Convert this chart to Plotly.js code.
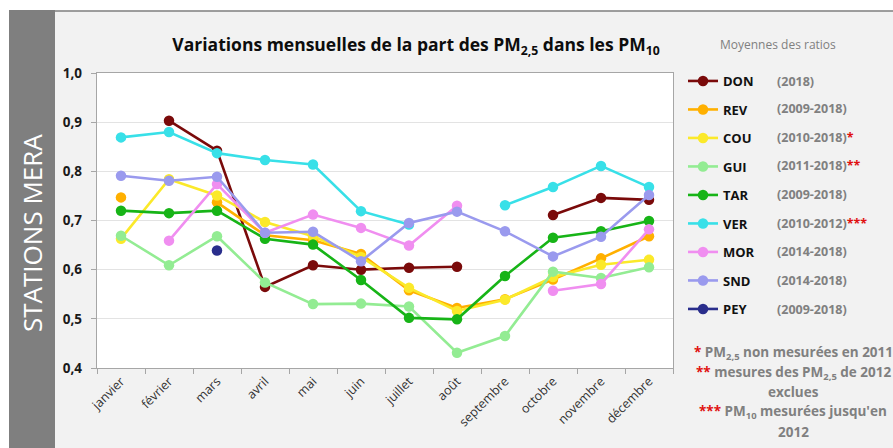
<!DOCTYPE html>
<html>
<head>
<meta charset="utf-8">
<script src="https://cdn.plot.ly/plotly-3.0.1.min.js"></script>
<style>
  html, body { margin: 0; padding: 0; background: #ffffff; }
  #chart { width: 893px; height: 448px; }
</style>
</head>
<body>
<div id="chart"></div>
<script>
// ---- Data ----
const months = ['janvier','février','mars','avril','mai','juin','juillet','août','septembre','octobre','novembre','décembre'];

const stations = ['DON','REV','COU','GUI','TAR','VER','MOR','SND','PEY'];
const periods  = ['(2018)','(2009-2018)','(2010-2018)','(2011-2018)','(2009-2018)','(2010-2012)','(2014-2018)','(2014-2018)','(2009-2018)'];
const periodNotes = ['','','*','**','','***','','',''];

const DON = [null, 0.903, 0.842, 0.565, 0.609, 0.600, 0.604, 0.606, null, 0.711, 0.746, 0.742];
const REV = [0.747, null, 0.737, 0.670, 0.660, 0.632, 0.558, 0.522, 0.540, 0.580, 0.623, 0.668];
const COU = [0.663, 0.784, 0.751, 0.697, 0.668, 0.626, 0.563, 0.516, 0.539, 0.585, 0.610, 0.620];
const GUI = [0.669, 0.609, 0.668, 0.574, 0.530, 0.531, 0.525, 0.431, 0.465, 0.596, 0.583, 0.605];
const TAR = [0.720, 0.715, 0.720, 0.663, 0.651, 0.579, 0.502, 0.499, 0.587, 0.665, 0.678, 0.699];
const VER = [0.869, 0.880, 0.837, 0.823, 0.814, 0.719, 0.692, null, 0.731, 0.768, 0.811, 0.768];
const MOR = [null, 0.659, 0.774, 0.675, 0.712, 0.685, 0.649, 0.730, null, 0.557, 0.571, 0.682];
const SND = [0.791, 0.781, 0.789, 0.675, 0.677, 0.617, 0.695, 0.718, 0.678, 0.627, 0.667, 0.752];
const PEY = [null, null, 0.639, null, null, null, null, null, null, null, null, null];

const series = [DON, REV, COU, GUI, TAR, VER, MOR, SND, PEY];
const colors = ['#7a0a0a','#ffb000','#fbe92a','#93ec93','#17b417','#38e0e8','#f08ef0','#9a9aee','#2a2e8c'];

const footnotes = [
  "<span style='color:#e01010'>*</span> PM<sub>2,5</sub> non mesurées en 2011",
  "<span style='color:#e01010'>**</span> mesures des PM<sub>2,5</sub> de 2012",
  "exclues",
  "<span style='color:#e01010'>***</span> PM<sub>10</sub> mesurées jusqu'en",
  "2012"
];

// ---- Geometry helpers (pixel -> paper) ----
const W = 893, H = 448;
const M = {l: 97, r: 220, t: 73, b: 80};
const PW = W - M.l - M.r, PH = H - M.t - M.b;
const px = x => (x - M.l) / PW;
const py = y => (H - M.b - y) / PH;

// ---- Traces ----
const traces = series.map((vals, i) => ({
  type: 'scatter',
  mode: 'lines+markers',
  x: months,
  y: vals,
  name: '<b>' + stations[i] + '</b>',
  legendgroup: 'g' + i,
  line: {color: colors[i], width: 2.6},
  marker: {color: colors[i], size: 10.5},
  connectgaps: false,
  hoverinfo: 'skip'
}));

// ---- Annotations ----
const annotations = [];
annotations.push({
  xref: 'paper', yref: 'paper', x: px(32), y: py(233),
  text: 'STATIONS MERA', textangle: -90, showarrow: false,
  font: {family: 'Open Sans, sans-serif', size: 26, color: '#ffffff'},
  xanchor: 'center', yanchor: 'middle'
});
annotations.push({
  xref: 'paper', yref: 'paper', x: px(778), y: py(44),
  text: 'Moyennes des ratios', showarrow: false,
  font: {family: 'Open Sans, sans-serif', size: 12, color: '#808080'},
  xanchor: 'center', yanchor: 'middle'
});
const rowY = [81, 109, 137, 165, 194, 223, 251, 280, 309];
periods.forEach((p, i) => {
  annotations.push({
    xref: 'paper', yref: 'paper', x: px(775), y: py(rowY[i]),
    text: '<b>' + p + '</b>' + (periodNotes[i] ? "<span style='color:#e01010'><b>" + periodNotes[i] + '</b></span>' : ''),
    showarrow: false, xanchor: 'left', yanchor: 'middle',
    font: {family: 'Open Sans, sans-serif', size: 12.5, color: '#808080'}
  });
});
const footY = [353, 373, 392, 412, 432];
footnotes.forEach((t, i) => {
  annotations.push({
    xref: 'paper', yref: 'paper', x: px(793), y: py(footY[i]),
    text: '<b>' + t + '</b>', showarrow: false, xanchor: 'center', yanchor: 'middle',
    font: {family: 'Open Sans, sans-serif', size: 13.5, color: '#808080'}
  });
});

// ---- Shapes (frame decoration) ----
const shapes = [
  {type: 'rect', xref: 'paper', yref: 'paper', x0: px(0), x1: px(W), y0: py(0), y1: py(10.5), fillcolor: '#ffffff', line: {width: 0}, layer: 'below'},
  {type: 'rect', xref: 'paper', yref: 'paper', x0: px(0), x1: px(9), y0: py(0), y1: py(H), fillcolor: '#ffffff', line: {width: 0}, layer: 'below'},
  {type: 'rect', xref: 'paper', yref: 'paper', x0: px(9), x1: px(55), y0: py(10), y1: py(H), fillcolor: '#7f7f7f', line: {width: 0}, layer: 'below'},
  {type: 'line', xref: 'paper', yref: 'paper', x0: px(9), x1: px(W), y0: py(11), y1: py(11), line: {color: '#7f7f7f', width: 1.5}, layer: 'below'}
];

const layout = {
  width: W, height: H,
  margin: M,
  paper_bgcolor: '#f2f2f2',
  plot_bgcolor: '#ffffff',
  separators: ',.',
  font: {family: 'Open Sans, sans-serif', color: '#262626'},
  title: {
    text: '<b>Variations mensuelles de la part des PM<sub>2,5</sub> dans les PM<sub>10</sub></b>',
    xref: 'container', yref: 'container',
    x: 416 / W, y: 1 - 45 / H, xanchor: 'center', yanchor: 'middle',
    font: {family: 'Open Sans, sans-serif', size: 17.5, color: '#0d0d0d'}
  },
  xaxis: {
    type: 'category',
    range: [-0.5, 11.5],
    tickangle: -45,
    tickson: 'boundaries',
    ticks: 'outside', ticklen: 5, tickcolor: '#a6a6a6',
    showline: true, linecolor: '#a6a6a6', linewidth: 1.2, mirror: true,
    showgrid: false,
    tickfont: {family: 'Open Sans, sans-serif', size: 12.5, color: '#333333'}
  },
  yaxis: {
    range: [0.4, 1.0],
    dtick: 0.1,
    tickformat: '.1f',
    ticks: 'outside', ticklen: 5, tickcolor: '#a6a6a6',
    showline: true, linecolor: '#a6a6a6', linewidth: 1.2, mirror: true,
    showgrid: true, gridcolor: '#e3e3e3', gridwidth: 1,
    zeroline: false,
    ticklabelstandoff: 6,
    tickfont: {family: 'Open Sans, sans-serif', size: 13.5, color: '#1a1a1a', weight: 'bold'}
  },
  showlegend: true,
  legend: {
    x: px(683), y: py(66), xanchor: 'left', yanchor: 'top',
    bgcolor: 'rgba(0,0,0,0)', borderwidth: 0,
    tracegroupgap: 8.6,
    maxheight: 400,
    font: {family: 'Open Sans, sans-serif', size: 13, color: '#111111'},
    itemclick: false, itemdoubleclick: false
  },
  annotations: annotations,
  shapes: shapes
};

Plotly.newPlot('chart', traces, layout, {displayModeBar: false, staticPlot: true});
</script>
</body>
</html>
